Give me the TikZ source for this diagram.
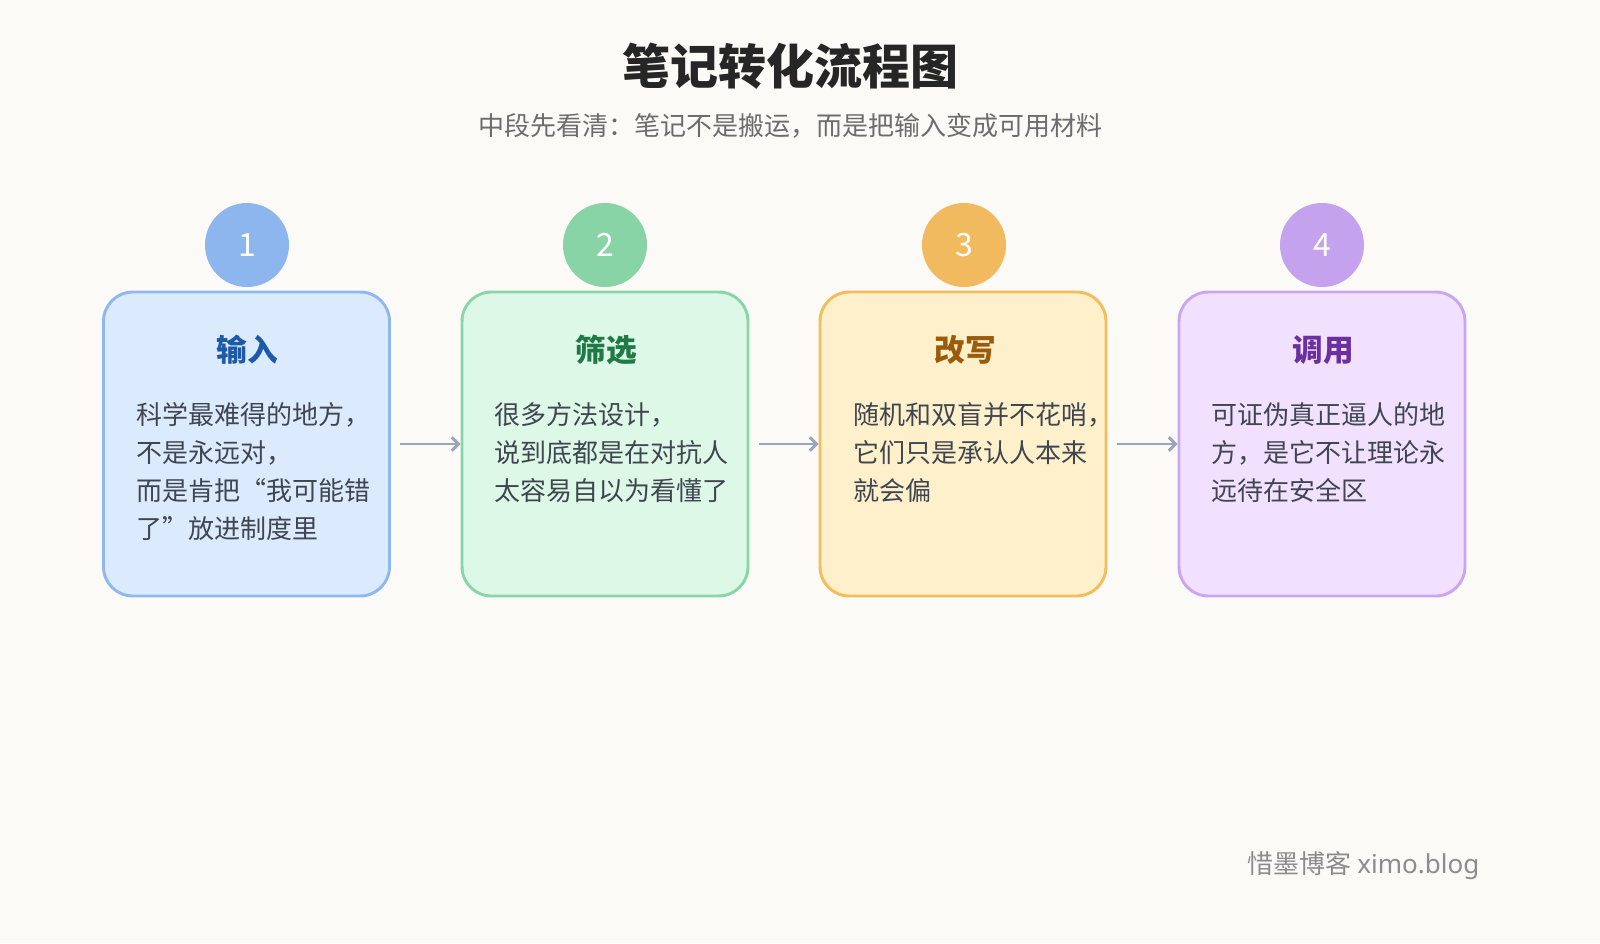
\documentclass[tikz,border=0pt]{standalone}
\usepackage{fontspec}
\usetikzlibrary{arrows.meta}
\setmainfont{Noto Sans CJK SC}
\newfontfamily\latinf{Noto Sans}
\definecolor{bg}{HTML}{FBFAF6}
\definecolor{txt}{HTML}{3F4650}
\definecolor{arr}{HTML}{9AA6B6}
\definecolor{f1}{RGB}{220,234,254}\definecolor{d1}{RGB}{143,184,240}\definecolor{k1}{RGB}{141,181,238}\definecolor{h1c}{RGB}{30,90,168}
\definecolor{f2}{RGB}{222,248,232}\definecolor{d2}{RGB}{136,214,168}\definecolor{k2}{RGB}{136,212,166}\definecolor{h2c}{RGB}{31,122,69}
\definecolor{f3}{RGB}{255,240,204}\definecolor{d3}{RGB}{242,190,92}\definecolor{k3}{RGB}{242,186,94}\definecolor{h3c}{RGB}{154,91,10}
\definecolor{f4}{RGB}{241,225,255}\definecolor{d4}{RGB}{200,166,240}\definecolor{k4}{RGB}{196,162,238}\definecolor{h4c}{RGB}{107,47,160}
\begin{document}
\begin{tikzpicture}[x=0.75pt,y=-0.75pt,
  card/.style={line width=2.2pt, rounded corners=22pt, minimum width=214.5pt, minimum height=228pt},
  num/.style={circle, fill=#1, minimum size=63pt, inner sep=0pt, text=white, font=\fontsize{24}{24}\selectfont},
  head/.style={font=\fontsize{23}{23}\selectfont\bfseries, text=#1},
  body/.style={anchor=north west, align=left, text=txt, inner sep=0pt, font=\fontsize{19.5}{28.5}\selectfont},
  link/.style={draw=arr, line width=2.2pt, ->, >={Straight Barb[length=5pt]}}]
\fill[bg] (0,0) rectangle (1600,943);
\useasboundingbox (0,0) rectangle (1600,943);
\node[font=\fontsize{36}{36}\selectfont\bfseries, text=black!85] (title) at (790,66) {笔记转化流程图};
\node[font=\fontsize{19.5}{20}\selectfont, text=gray!85!black] (sub) at (790,126) {中段先看清：笔记不是搬运，而是把输入变成可用材料};
\node[card, fill=f1, draw=d1] (c1) at (246.5,444) {};
\node[card, fill=f2, draw=d2] (c2) at (605,444) {};
\node[card, fill=f3, draw=d3] (c3) at (963,444) {};
\node[card, fill=f4, draw=d4] (c4) at (1322,444) {};
\node[num=k1] (n1) at (247,245) {1};
\node[num=k2] (n2) at (605,245) {2};
\node[num=k3] (n3) at (964,245) {3};
\node[num=k4] (n4) at (1322,245) {4};
\node[head=h1c] (h1) at (247,350) {输入};
\node[head=h2c] (h2) at (606,350) {筛选};
\node[head=h3c] (h3) at (965,350) {改写};
\node[head=h4c] (h4) at (1323,350) {调用};
\node[body] (b1) at (136,402) {科学最难得的地方，\\不是永远对，\\而是肯把“我可能错\\了”放进制度里};
\node[body] (b2) at (494,402) {很多方法设计，\\说到底都是在对抗人\\太容易自以为看懂了};
\node[body] (b3) at (853,402) {随机和双盲并不花哨，\\它们只是承认人本来\\就会偏};
\node[body] (b4) at (1211,402) {可证伪真正逼人的地\\方，是它不让理论永\\远待在安全区};
\coordinate (a1) at (400,444);
\coordinate (a2) at (759,444);
\coordinate (a3) at (1117,444);
\draw[link] (a1) -- (c2.west);
\draw[link] (a2) -- (c3.west);
\draw[link] (a3) -- (c4.west);
\node[anchor=east, text=gray!90, font=\fontsize{19.5}{20}\selectfont] (wm) at (1484,866) {惜墨博客 {\latinf ximo.blog}};
\end{tikzpicture}
\end{document}
